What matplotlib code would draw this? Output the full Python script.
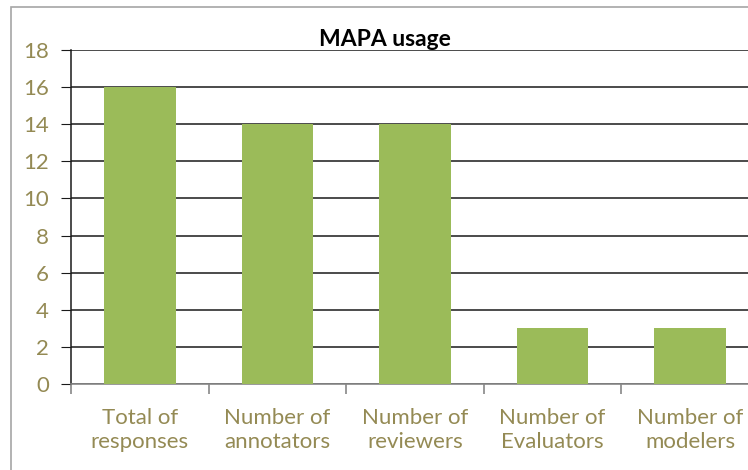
import matplotlib.pyplot as plt
from matplotlib.patches import Rectangle

categories = ["Total of\nresponses", "Number of\nannotators", "Number of\nreviewers",
              "Number of\nEvaluators", "Number of\nmodelers"]
values = [16, 14, 14, 3, 3]
yticks = [0, 2, 4, 6, 8, 10, 12, 14, 16, 18]

plt.rcParams['font.family'] = ['Lato', 'DejaVu Sans']
text_color = '#948A54'

fig = plt.figure(figsize=(7.48, 4.70), dpi=100)
ax = fig.add_axes([71 / 748, 1 - 384 / 470, 1 - 71 / 748, (384 - 50) / 470])

x = list(range(len(categories)))
ax.bar(x, values, width=0.52, color='#9BBB59', zorder=3)

ax.set_ylim(0, 18)
ax.set_yticks(yticks)
ax.yaxis.grid(True, color='#1a1a1a', linewidth=1.1, zorder=0)
ax.set_xlim(-0.5, 4.42)
ax.set_xticks(x)
ax.set_xticklabels(categories, color=text_color, fontsize=16, linespacing=1.3)
ax.tick_params(axis='x', length=0, pad=17)
ax.set_xticks([i + 0.5 for i in range(-1, 4)], minor=True)
ax.tick_params(axis='x', which='minor', length=7, color='#888888', width=1.2)
ax.tick_params(axis='y', length=7, color='#1a1a1a', labelcolor=text_color,
               labelsize=16, pad=9)

for s in ['top', 'right']:
    ax.spines[s].set_visible(False)
ax.spines['left'].set_color('#1a1a1a')
ax.spines['left'].set_linewidth(1.1)
ax.spines['bottom'].set_color('#888888')
ax.spines['bottom'].set_linewidth(1.2)

fig.text(385 / 748, 1 - 40 / 470, "MAPA usage", ha='center', va='center',
         fontsize=16.5, fontweight='bold', color='black')

fig.patches.append(Rectangle((11 / 748, -0.1), 2, 1 - 7 / 470 + 0.1,
                             transform=fig.transFigure, fill=False,
                             edgecolor='#A6A6A6', linewidth=1.2))

fig.savefig("out.png", dpi=100)
